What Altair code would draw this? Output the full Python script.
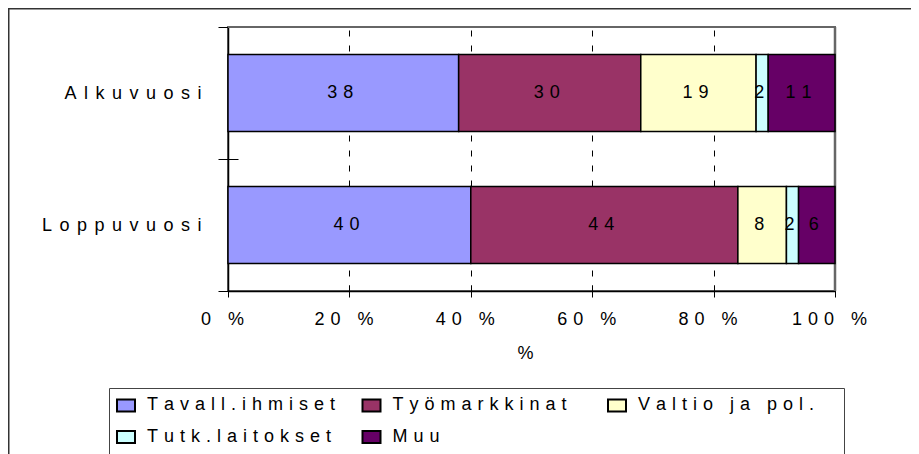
import altair as alt
import pandas as pd

# ---- data ----
categories = ["Alkuvuosi", "Loppuvuosi"]
series = ["Tavall.ihmiset", "Työmarkkinat", "Valtio ja pol.", "Tutk.laitokset", "Muu"]
alkuvuosi = [38, 30, 19, 2, 11]
loppuvuosi = [40, 44, 8, 2, 6]
colors = ["#9999FF", "#993366", "#FFFFCC", "#CCFFFF", "#660066"]
x_ticks = [0, 20, 40, 60, 80, 100]

rows = []
for cat, vals in zip(categories, [alkuvuosi, loppuvuosi]):
    for i, (s, v) in enumerate(zip(series, vals)):
        rows.append({"cat": cat, "series": s, "order": i, "value": v})
df = pd.DataFrame(rows)

W, H = 607, 264
PAD = {"left": 220, "top": 19, "right": 76, "bottom": 185}
FONT = "Liberation Sans"
FS = 18
SP = "\u2004"            # letter spacing of the spaced-out Excel text
SPY = "\u2005\u2006"     # slightly wider spacing for the category labels
GREY = "#666666"

base = alt.Chart(df).transform_stack(
    stack="value", groupby=["cat"], as_=["x0", "x1"], sort=[alt.SortField("order")]
).transform_calculate(
    mid="(datum.x0 + datum.x1) / 2",
    lbl=f"join(split(toString(datum.value), ''), '{SP}')",
)

xscale = alt.Scale(domain=[0, 100], nice=False, zero=True)
yscale = alt.Scale(domain=categories, paddingInner=0, paddingOuter=0)

# grey plot-area border: top edge at the start of the first band, right edge at 100 %
top_edge_df = pd.DataFrame({"cat": [categories[0]]})
right_edge_df = pd.DataFrame({"x": [100]})
top_edge = alt.Chart(top_edge_df).mark_rule(color=GREY, strokeWidth=2).encode(
    y=alt.Y("cat:N", scale=yscale, bandPosition=0, axis=None)
)
right_edge = alt.Chart(right_edge_df).mark_rule(color=GREY, strokeWidth=2.5).encode(
    x=alt.X("x:Q", scale=xscale, axis=None)
)

bars = base.mark_bar(size=77, stroke="black", strokeWidth=1.5).encode(
    x=alt.X(
        "x0:Q",
        scale=xscale,
        axis=alt.Axis(
            orient="bottom", values=x_ticks,
            domain=True, domainColor="black", domainWidth=1.5,
            ticks=True, tickSize=6, tickColor="black", tickWidth=1,
            grid=True, gridColor="black", gridDash=[6, 9], gridWidth=1,
            gridOpacity={"condition": {"test": "datum.value === 0 || datum.value === 100", "value": 0}, "value": 1},
            labelExpr=f"join(split(datum.value + ' %', ''), '{SP}')",
            labelFont=FONT, labelFontSize=FS, labelColor="black",
            labelPadding=13, labelOffset=-6, labelFlush=False, labelOverlap=False,
            title="%", titleFont=FONT, titleFontSize=FS, titleFontWeight="normal",
            titleColor="black", titlePadding=16, titleX=297,
        ),
    ),
    x2="x1:Q",
    y=alt.Y(
        "cat:N",
        scale=yscale,
        axis=alt.Axis(
            orient="left", domain=True, domainColor="black", domainWidth=1.5,
            tickBand="extent", ticks=True, tickSize=10, tickColor="black", tickWidth=1,
            grid=False,
            labelExpr=f"join(split(datum.label, ''), '{SPY}')",
            labelFont=FONT, labelFontSize=FS, labelColor="black",
            labelPadding=17, labelLimit=0, title=None,
        ),
    ),
    color=alt.Color(
        "series:N",
        scale=alt.Scale(domain=series, range=colors),
        legend=alt.Legend(
            title=None, orient="none", legendX=-119, legendY=361,
            direction="horizontal", columns=3, gridAlign="all",
            padding=7, strokeColor="#444",
            symbolType="M-1,-0.667H1V0.667H-1Z", symbolSize=324,
            symbolStrokeColor="black", symbolStrokeWidth=2, symbolOpacity=1,
            labelExpr=(
                f"join(split(datum.label, ''), '{SP}')"
                " + (datum.label === 'Valtio ja pol.' ? '\u2003\u2005\u200b' : '')"
            ),
            labelFont=FONT, labelFontSize=FS, labelColor="black",
            labelOffset=11, labelLimit=0, columnPadding=12.5, rowPadding=10,
        ),
    ),
    order=alt.Order("order:Q"),
)

text = base.mark_text(font=FONT, fontSize=FS, color="black", dx=-3).encode(
    x=alt.X(
        "mid:Q", scale=xscale,
        axis=alt.Axis(orient="top", offset=-H, values=x_ticks, labels=False, domain=False,
                      grid=False, ticks=True, tickSize=6, tickColor="black", title=None),
    ),
    y=alt.Y(
        "cat:N", scale=yscale,
        axis=alt.Axis(orient="right", offset=-W, labels=False, domain=False, grid=False,
                      tickBand="extent", ticks=True, tickSize=10, tickColor="black", title=None),
    ),
    text="lbl:N",
)

deco_df = pd.DataFrame({"k": [0]})
# outer chart-area frame
frame_top = alt.Chart(deco_df).mark_rule(color="#333", strokeWidth=1.5).encode(
    x=alt.value(-219.25), x2=alt.value(W + 80), y=alt.value(-18.25)
)
frame_left = alt.Chart(deco_df).mark_rule(color="#333", strokeWidth=1.5).encode(
    x=alt.value(-219.25), y=alt.value(-19), y2=alt.value(H + 200)
)

chart = alt.layer(top_edge, right_edge, bars, text, frame_top, frame_left).resolve_axis(
    x="independent", y="independent"
).properties(
    width=W, height=H, padding=PAD, autosize=alt.AutoSizeParams(type="none")
).configure_view(stroke=GREY, strokeWidth=2)

chart.save("out.html", embed_options={"renderer": "svg", "actions": False})
